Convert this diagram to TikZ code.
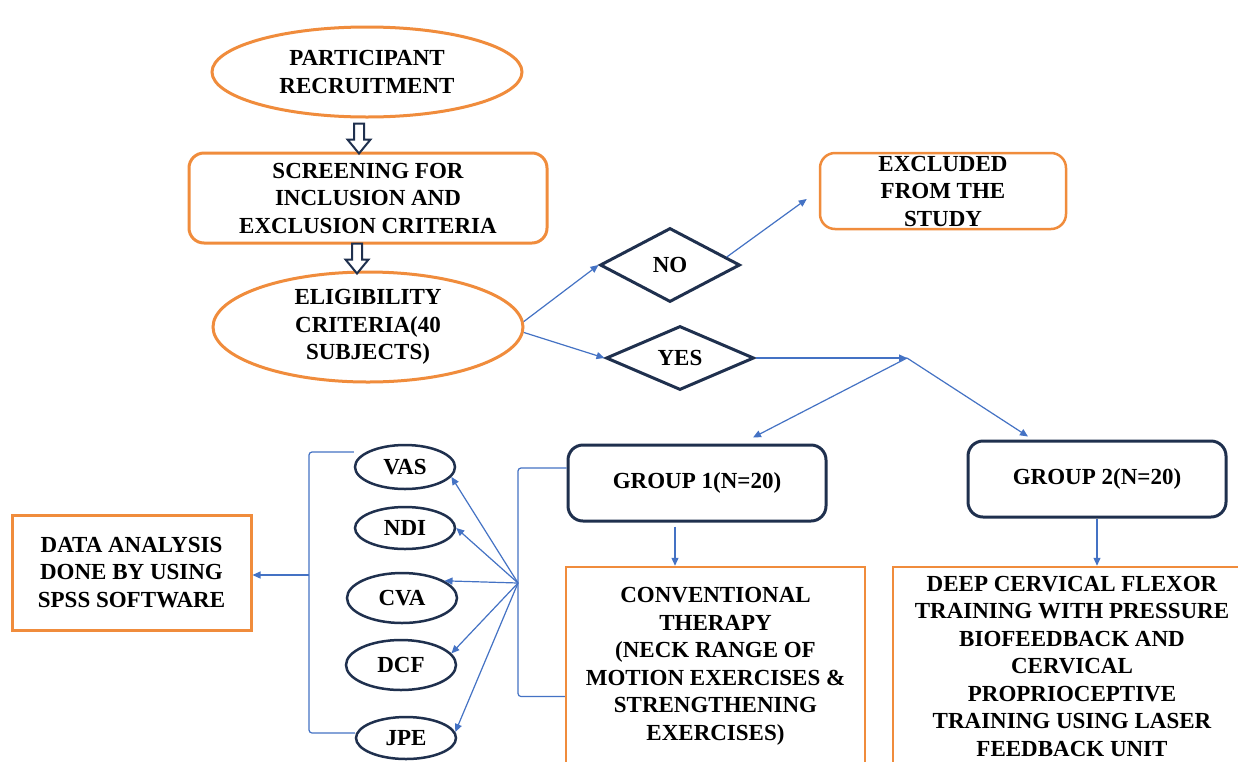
\documentclass[tikz,border=0pt]{standalone}
\usepackage{fontspec}
\setmainfont{Liberation Serif}
\usetikzlibrary{ shapes.geometric, % For ellipses and diamonds
                 arrows.meta,
                 calc,             % For shifted anchor points
               }
\definecolor{boxorange}{RGB}{240,140,60}
\definecolor{boxnavy}{RGB}{31,48,78}
\definecolor{linkblue}{RGB}{68,114,196}

\tikzstyle{label_text} = [font=\bfseries\fontsize{23}{27.5}\selectfont, align=center, inner sep=0pt]
\tikzstyle{oval} = [label_text, ellipse, draw=boxorange, line width=3pt, minimum width=310, minimum height=90]
\tikzstyle{orange_box} = [label_text, rectangle, draw=boxorange, line width=2.5pt]
\tikzstyle{orange_round} = [orange_box, rounded corners=15pt]
\tikzstyle{choice} = [label_text, diamond, draw=boxnavy, line width=3pt]
\tikzstyle{group_box} = [label_text, rectangle, rounded corners=15pt, draw=boxnavy, line width=3pt, minimum width=258, minimum height=76]
\tikzstyle{measure} = [label_text, ellipse, draw=boxnavy, line width=2.5pt, minimum width=100, minimum height=44]
\tikzstyle{link} = [draw=linkblue, line width=1.2pt]
\tikzstyle{flow} = [link, ->, >={Triangle[length=8pt, width=7pt]}]
\tikzstyle{hollow} = [draw=boxnavy, fill=white, line width=2pt]
\tikzset{hollowdown/.pic = {
  \path[hollow] (-5,0) -- (-5,16) -- (-11.5,16) -- (0,30) -- (11.5,16) -- (5,16) -- (5,0) -- cycle;
}}

\begin{document}
\begin{tikzpicture}[x=1pt, y=-1pt]
  \fill[white] (0,0) rectangle (1238,761);
  \useasboundingbox (0,0) rectangle (1238,761);
  \clip (0,0) rectangle (1238,761);

  % left column
  \node (recruit) [oval] at (367,72) {PARTICIPANT\\RECRUITMENT};
  \node (screen) [orange_round, line width=3pt, minimum width=358, minimum height=90] at (368,198) {SCREENING FOR\\INCLUSION AND\\EXCLUSION CRITERIA};
  \node (elig) [oval, minimum height=110] at (368,327) {ELIGIBILITY\\CRITERIA(40\\SUBJECTS)};
  \pic at ($(recruit.south)+(-8,5)$) {hollowdown};
  \pic at ($(screen.south)+(-11,-1)$) {hollowdown};

  % decision
  \node (no) [choice, minimum width=140, minimum height=74] at (670,265) {NO};
  \node (yes) [choice, minimum width=148, minimum height=64] at (680,358) {YES};
  \node (excl) [orange_round, minimum width=246, minimum height=76] at (943,191) {EXCLUDED\\FROM THE\\STUDY};
  \coordinate (split) at (907,358);
  \draw[flow] (elig.2) -- (no.west);
  \draw[flow] (elig.-2) -- (yes.west);
  \draw[flow] (no.8) -- ($(excl.west)+(-12,8)$);
  \draw[flow] (yes.east) -- (split);

  % groups
  \node (grp1) [group_box] at (697,483) {GROUP 1(N=20)};
  \node (grp2) [group_box] at (1097,479) {GROUP 2(N=20)};
  \draw[flow] (split) -- ($(grp1.north)+(56,-6)$);
  \draw[flow] (split) -- ($(grp2.north)+(-69,-3)$);

  \node (conv) [orange_box, minimum width=299, minimum height=199] at (715.5,666.5) {CONVENTIONAL\\THERAPY\\(NECK RANGE OF\\MOTION EXERCISES \&\\STRENGTHENING\\EXERCISES)};
  \node (dcf) [orange_box, minimum width=358, minimum height=198] at (1072,666) {DEEP CERVICAL FLEXOR\\TRAINING WITH PRESSURE\\BIOFEEDBACK AND\\CERVICAL\\PROPRIOCEPTIVE\\TRAINING USING LASER\\FEEDBACK UNIT};
  \coordinate (g1out) at ($(grp1.south)+(-22,4)$);
  \draw[flow] (g1out) -- (g1out |- conv.north);
  \draw[flow] (grp2.south) -- (grp2.south |- dcf.north);

  % outcome measures
  \node (vas) [measure] at (405,467) {VAS};
  \node (ndi) [measure, minimum height=42] at (405,528) {NDI};
  \node (cva) [measure, minimum width=110, minimum height=50] at (402,598) {CVA};
  \node (dcfm) [measure, minimum width=110, minimum height=50] at (401,665) {DCF};
  \node (jpe) [measure, minimum height=42] at (406,738) {JPE};
  \node (data) [orange_box, line width=3pt, minimum width=239, minimum height=115] at (131.5,572.5) {DATA ANALYSIS\\DONE BY USING\\SPSS SOFTWARE};

  \coordinate (gl) at (518,583);
  \coordinate (ghook) at ($(grp1.west)+(0,-15)$);
  \coordinate (chook) at ($(conv.west)+(0,30)$);
  \draw[link, rounded corners=3pt] (ghook) -- (ghook -| gl) -- (chook -| gl) -- (chook);
  \foreach \m/\a in {vas/-12, ndi/0, cva/22, dcfm/13, jpe/7}
    \draw[flow] (gl) -- (\m.\a);

  \coordinate (bl) at (309,575);
  \coordinate (vhook) at ($(vas.west)+(0,-15)$);
  \coordinate (jhook) at ($(jpe.west)+(0,-5)$);
  \draw[link, rounded corners=3pt] (vhook) -- (vhook -| bl) -- (jhook -| bl) -- (jhook);
  \draw[flow] (bl) -- (bl -| data.east);
\end{tikzpicture}
\end{document}
